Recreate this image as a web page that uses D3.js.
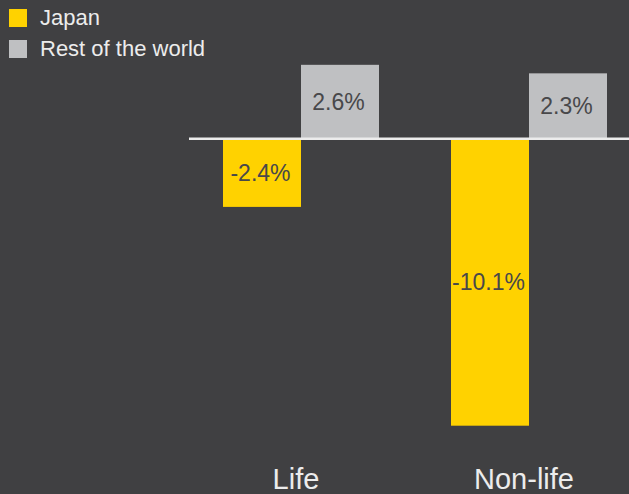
<!DOCTYPE html>
<html><head><meta charset="utf-8">
<script src="https://cdn.jsdelivr.net/npm/d3@7"></script>
<style>html,body{margin:0;padding:0;background:#404042;}svg{display:block;}</style>
</head><body>
<svg id="chart" width="629" height="494"></svg>
<script>
const categories = ["Life", "Non-life"];
const seriesNames = ["Japan", "Rest of the world"];
const japanValues = [-2.4, -10.1];
const restValues = [2.6, 2.3];
const valueLabels = [["-2.4%", "2.6%"], ["-10.1%", "2.3%"]];
const colors = ["#FFD200", "#BFC0C2"];

const W = 629, H = 494;
const svg = d3.select("#chart");
svg.append("rect").attr("width", W).attr("height", H).attr("fill", "#404042");

const x = d3.scaleBand().domain(categories).range([223, 607]).paddingInner(0.3158).paddingOuter(0);
const xs = d3.scaleBand().domain(seriesNames).range([0, x.bandwidth()]);
const y = d3.scaleLinear().domain([-10.1, 0]).range([425.7, 138.7]);

const data = categories.map((c, i) => ({
  cat: c,
  vals: [
    {s: seriesNames[0], v: japanValues[i], label: valueLabels[i][0]},
    {s: seriesNames[1], v: restValues[i], label: valueLabels[i][1]}
  ]
}));

const g = svg.append("g");
data.forEach(d => {
  d.vals.forEach((v, j) => {
    const x0 = x(d.cat) + xs(v.s);
    const top = Math.min(y(v.v), y(0));
    const h = Math.abs(y(v.v) - y(0));
    g.append("rect").attr("x", x0).attr("y", top).attr("width", xs.bandwidth()).attr("height", h)
      .attr("fill", colors[j]);
    g.append("text").attr("x", x0 + xs.bandwidth() / 2 - 1.5).attr("y", top + h / 2 + 2)
      .attr("text-anchor", "middle").attr("dominant-baseline", "middle")
      .attr("font-family", "Liberation Sans, Arial, sans-serif").attr("font-size", 23)
      .attr("fill", "#48484a").text(v.label);
  });
});

// baseline
svg.append("line").attr("x1", 189).attr("x2", W).attr("y1", y(0)).attr("y2", y(0))
  .attr("stroke", "#ececec").attr("stroke-width", 2.5);

// category labels
const xAxis = d3.axisBottom(x).tickSize(0).tickPadding(0);
const ax = svg.append("g").attr("transform", "translate(-5,468)").call(xAxis);
ax.select(".domain").remove();
ax.selectAll("text").attr("font-family", "Liberation Sans, Arial, sans-serif").attr("font-size", 29)
  .attr("fill", "#ececec").attr("dy", "0.72em");

// legend
const leg = svg.append("g");
seriesNames.forEach((s, i) => {
  const yy = 9 + i * 31;
  leg.append("rect").attr("x", 9).attr("y", yy).attr("width", 18).attr("height", 18).attr("fill", colors[i]);
  leg.append("text").attr("x", 40).attr("y", yy + 16).attr("font-family", "Liberation Sans, Arial, sans-serif")
    .attr("font-size", 22).attr("fill", "#ececec").text(s);
});
</script>
</body></html>
